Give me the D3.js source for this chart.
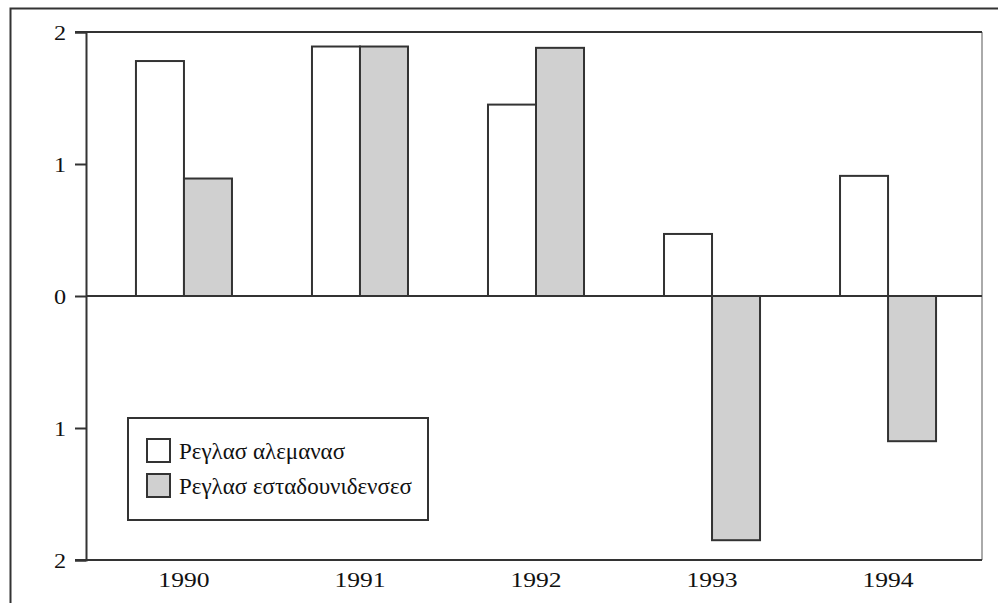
<!DOCTYPE html>
<html>
<head>
<meta charset="utf-8">
<script src="https://cdn.jsdelivr.net/npm/d3@7"></script>
<style>
  body { margin: 0; background: #fff; }
  svg text { font-family: "Liberation Serif", "Times New Roman", "DejaVu Serif", serif; }
</style>
</head>
<body>
<div id="chart"></div>
<script>
const years = ["1990", "1991", "1992", "1993", "1994"];
const seriesNames = ["Ρεγλασ αλεμανασ", "Ρεγλασ εσταδουνιδενσεσ"];
const germanValues = [1.78, 1.89, 1.45, 0.47, 0.91];
const usValues = [0.89, 1.89, 1.88, -1.85, -1.10];
const yTicks = [-2, -1, 0, 1, 2];
const fills = ["#ffffff", "#d0d0d0"];

const W = 998, H = 603;
const plot = { left: 86, right: 982, top: 32, bottom: 560 };

const svg = d3.select("#chart").append("svg")
    .attr("width", W)
    .attr("height", H);

// outer frame (only left and top visible)
svg.append("path")
    .attr("d", `M10.5,${H} V8.5 H${W}`)
    .attr("fill", "none")
    .attr("stroke", "#333")
    .attr("stroke-width", 2);

const y = d3.scaleLinear()
    .domain([-2, 2])
    .range([plot.bottom, plot.top]);

const x = d3.scaleBand()
    .domain(years)
    .range([96, 976])
    .paddingInner(0.4545)
    .paddingOuter(0.227);

const xSub = d3.scaleBand()
    .domain([0, 1])
    .range([0, x.bandwidth()]);

// plot frame: right side lighter
svg.append("line")
    .attr("x1", plot.right).attr("x2", plot.right)
    .attr("y1", plot.top).attr("y2", plot.bottom)
    .attr("stroke", "#aaa").attr("stroke-width", 2);

svg.append("line")
    .attr("x1", plot.left - 11).attr("x2", plot.right)
    .attr("y1", plot.top).attr("y2", plot.top)
    .attr("stroke", "#333").attr("stroke-width", 2);

svg.append("line")
    .attr("x1", plot.left - 11).attr("x2", plot.right)
    .attr("y1", plot.bottom).attr("y2", plot.bottom)
    .attr("stroke", "#333").attr("stroke-width", 2);

// y axis
const yAxis = svg.append("g")
    .attr("transform", `translate(${plot.left},0)`)
    .call(d3.axisLeft(y)
        .tickValues(yTicks)
        .tickSize(11)
        .tickFormat(d => Math.abs(d)));
yAxis.attr("font-family", null);
yAxis.select(".domain").attr("stroke", "#333").attr("stroke-width", 2);
yAxis.selectAll(".tick line").attr("stroke", "#333").attr("stroke-width", 2);
yAxis.selectAll(".tick text")
    .attr("x", 0)
    .attr("dy", "0.34em")
    .attr("transform", "translate(-20,0) scale(1.1,1)")
    .attr("font-size", 22)
    .attr("fill", "#111");

// bars
const data = years.map((yr, i) => ({ year: yr, values: [germanValues[i], usValues[i]] }));

const groups = svg.append("g").selectAll("g")
    .data(data)
    .join("g")
    .attr("transform", d => `translate(${x(d.year)},0)`);

groups.selectAll("rect")
    .data(d => d.values.map((v, k) => ({ v, k })))
    .join("rect")
    .attr("x", d => xSub(d.k))
    .attr("width", xSub.bandwidth())
    .attr("y", d => y(Math.max(0, d.v)))
    .attr("height", d => Math.abs(y(d.v) - y(0)))
    .attr("fill", d => fills[d.k])
    .attr("stroke", "#333")
    .attr("stroke-width", 2);

// zero line
svg.append("line")
    .attr("x1", plot.left).attr("x2", plot.right)
    .attr("y1", y(0)).attr("y2", y(0))
    .attr("stroke", "#333").attr("stroke-width", 2);

// x labels
svg.append("g").selectAll("text")
    .data(years)
    .join("text")
    .attr("transform", d => `translate(${x(d) + x.bandwidth() / 2},587) scale(1.22,1)`)
    .attr("text-anchor", "middle")
    .attr("font-size", 21)
    .attr("fill", "#111")
    .text(d => d);

// legend
const legend = svg.append("g");
legend.append("rect")
    .attr("x", 128).attr("y", 418)
    .attr("width", 300).attr("height", 102)
    .attr("fill", "#fff")
    .attr("stroke", "#333").attr("stroke-width", 2);

const items = legend.selectAll("g.item")
    .data(seriesNames)
    .join("g")
    .attr("class", "item")
    .attr("transform", (d, i) => `translate(147,${439 + i * 35})`);

items.append("rect")
    .attr("width", 23).attr("height", 23)
    .attr("fill", (d, i) => fills[i])
    .attr("stroke", "#333").attr("stroke-width", 2);

items.append("text")
    .attr("x", 32)
    .attr("y", 20)
    .attr("font-size", 23)
    .attr("fill", "#111")
    .text(d => d);
</script>
</body>
</html>
